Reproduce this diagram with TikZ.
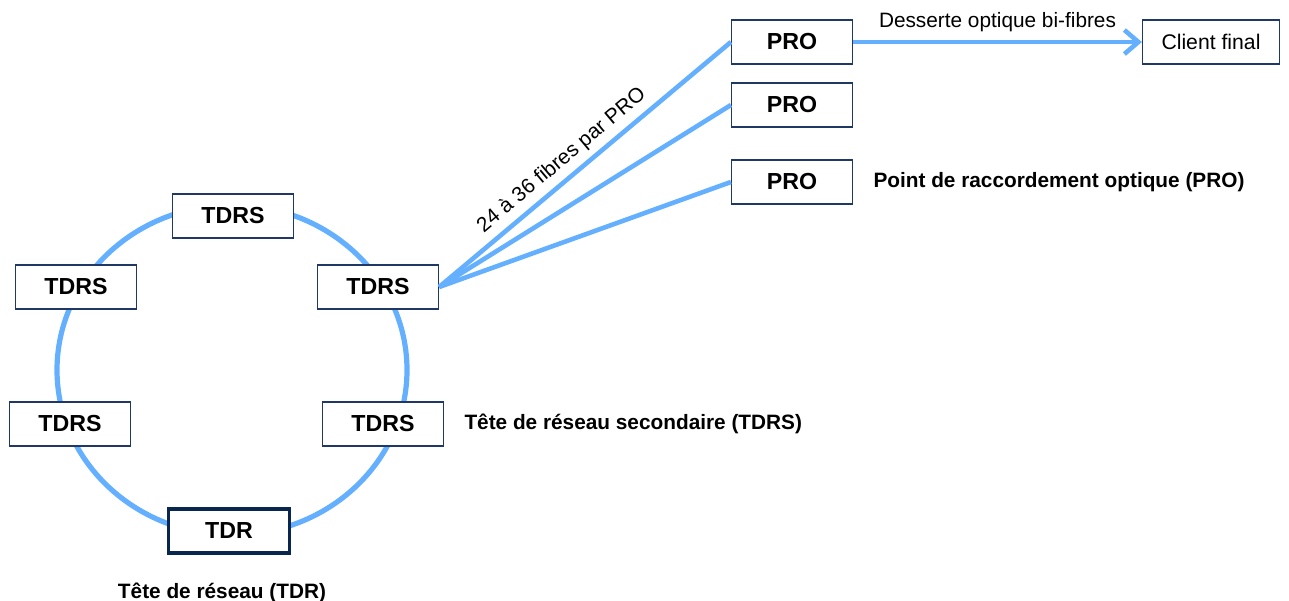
\documentclass[tikz,border=0pt]{standalone}
\usepackage{fontspec}
\setmainfont{Liberation Sans}
\usetikzlibrary{positioning,arrows.meta}
\definecolor{fibre}{RGB}{100,176,255}
\definecolor{cadre}{RGB}{31,56,100}
\definecolor{tdrbord}{RGB}{8,38,78}

\begin{document}
\begin{tikzpicture}[x=0.5pt, y=-0.5pt, node distance = 10pt,
	boite/.style={draw=cadre, fill=white, line width=0.6pt, minimum width=60.5pt, minimum height=22pt, inner sep=0pt, font=\fontsize{11.6}{13}\selectfont\bfseries},
	lien/.style={draw=fibre, line width=2.3pt},
	legende/.style={inner sep=0pt, font=\fontsize{10.4}{12}\selectfont\bfseries},
	texte/.style={inner sep=0pt, font=\fontsize{10.4}{12}\selectfont}]
			\useasboundingbox (0,0) rectangle (1289,600);
			
			\draw[lien, line width=2.6pt] (232,370) ellipse [x radius=175, y radius=165];
			
			\node[boite] (haut) at (233,216) {TDRS};
			\node[boite] (gauche) at (76,287) {TDRS};
			\node[boite] (droite) at (378,287) {TDRS};
			\node[boite] (basg) at (70,424) {TDRS};
			\node[boite] (basd) at (383,424) {TDRS};
			\node[boite, draw=tdrbord, line width=1.6pt] (tdr) at (229,531) {TDR};
			
			\node[boite] (pro1) at (792,42) {PRO};
			\node[boite] (pro2) at (792,105) {PRO};
			\node[boite] (pro3) at (792,182) {PRO};
			\node[boite, minimum width=68.5pt, font=\fontsize{10.6}{12}\selectfont] (client) at (1211,42) {Client final};
			
			\draw[lien] (droite.east) -- (pro1.west)
				node[texte, pos=0.46, sloped, above=3pt] {24 à 36 fibres par PRO};
			\draw[lien] (droite.east) -- (pro2.west);
			\draw[lien] (droite.east) -- (pro3.west);
			\draw[lien, -{Straight Barb[length=7pt, width=12pt, line width=2.3pt]}] (pro1) -- (client)
				node[texte, midway, above=4pt] {Desserte optique bi-fibres};
			
			\node[legende, right=of pro3] (lpro) {Point de raccordement optique (PRO)};
			\node[legende, right=of basd] (ltdrs) {Tête de réseau secondaire (TDRS)};
			\node[legende, below=14pt of tdr, xshift=-3.5pt] (ltdr) {Tête de réseau (TDR)};
			
\end{tikzpicture}
\end{document}
